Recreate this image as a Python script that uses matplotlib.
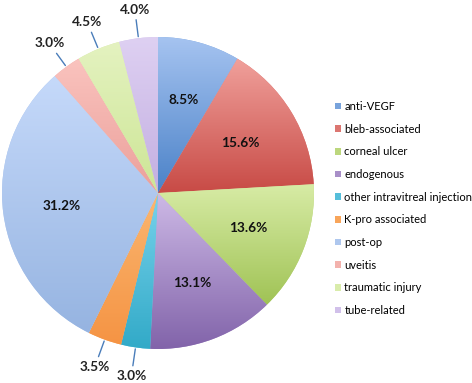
import numpy as np
import matplotlib
matplotlib.use("Agg")
import matplotlib.pyplot as plt

categories = ["anti-VEGF", "bleb-associated", "corneal ulcer", "endogenous",
              "other intravitreal injection", "K-pro associated", "post-op",
              "uveitis", "traumatic injury", "tube-related"]
values = [8.5, 15.6, 13.6, 13.1, 3.0, 3.5, 31.2, 3.0, 4.5, 4.0]
labels = ["8.5%", "15.6%", "13.6%", "13.1%", "3.0%", "3.5%", "31.2%", "3.0%", "4.5%", "4.0%"]

top_colors = [(165,195,240),(240,160,155),(215,235,165),(205,185,230),(120,210,235),
              (250,182,112),(197,217,250),(250,195,190),(228,242,192),(222,208,242)]
bot_colors = [(75,130,200),(200,75,70),(160,195,85),(130,100,170),(50,170,200),
              (245,148,68),(150,180,225),(235,160,155),(205,230,150),(195,175,225)]
outside = [False, False, False, False, True, True, False, True, True, True]

W, H = 472, 383
fig = plt.figure(figsize=(W/100, H/100), dpi=100)
cx, cy, R = 158, 193, 156
ax = fig.add_axes([(cx-R)/W, (H-cy-R)/H, 2*R/W, 2*R/H])

mids = [tuple((a+b)/2/255 for a, b in zip(t, b_)) for t, b_ in zip(top_colors, bot_colors)]
wedges, _ = ax.pie(values, colors=mids, startangle=90, counterclock=False,
                   radius=1, wedgeprops=dict(linewidth=0))

for w, t, b in zip(wedges, top_colors, bot_colors):
    ext = w.get_path().get_extents()
    n = 64
    grad = np.zeros((n, 1, 3))
    for i in range(3):
        grad[:, 0, i] = np.linspace(t[i], b[i], n) / 255
    im = ax.imshow(grad, extent=(ext.x0, ext.x1, ext.y0, ext.y1), origin="upper",
                   aspect="auto", interpolation="bilinear", zorder=2)
    im.set_clip_path(w)

ax.set_xlim(-1, 1)
ax.set_ylim(-1, 1)
ax.set_aspect("equal")
ax.axis("off")

line_color = (0.29, 0.49, 0.73)
for w, lab, out in zip(wedges, labels, outside):
    ang = np.deg2rad((w.theta1 + w.theta2) / 2)
    ca, sa = np.cos(ang), np.sin(ang)
    if out:
        ax.annotate(lab, xy=(1.01*ca, 1.01*sa), xytext=(1.185*ca, 1.185*sa),
                    ha="center", va="center", fontsize=9.8, fontweight="bold",
                    family="Lato", color="#222222", zorder=5, annotation_clip=False,
                    arrowprops=dict(arrowstyle="-", color=line_color, lw=1.0,
                                    shrinkA=1, shrinkB=0))
    else:
        r = 0.62
        ax.text(r*ca, r*sa, lab, ha="center", va="center", fontsize=9.8,
                fontweight="bold", family="Lato", color="#111111", zorder=5)

leg = fig.legend(wedges, categories, loc="upper left",
                 bbox_to_anchor=(335/W, 1 - 101/H), frameon=False,
                 prop=dict(family="Lato", size=8), handlelength=0.55,
                 handleheight=0.55, handletextpad=0.3, labelspacing=1.05,
                 borderpad=0, borderaxespad=0)

fig.savefig("out.png", dpi=100)
